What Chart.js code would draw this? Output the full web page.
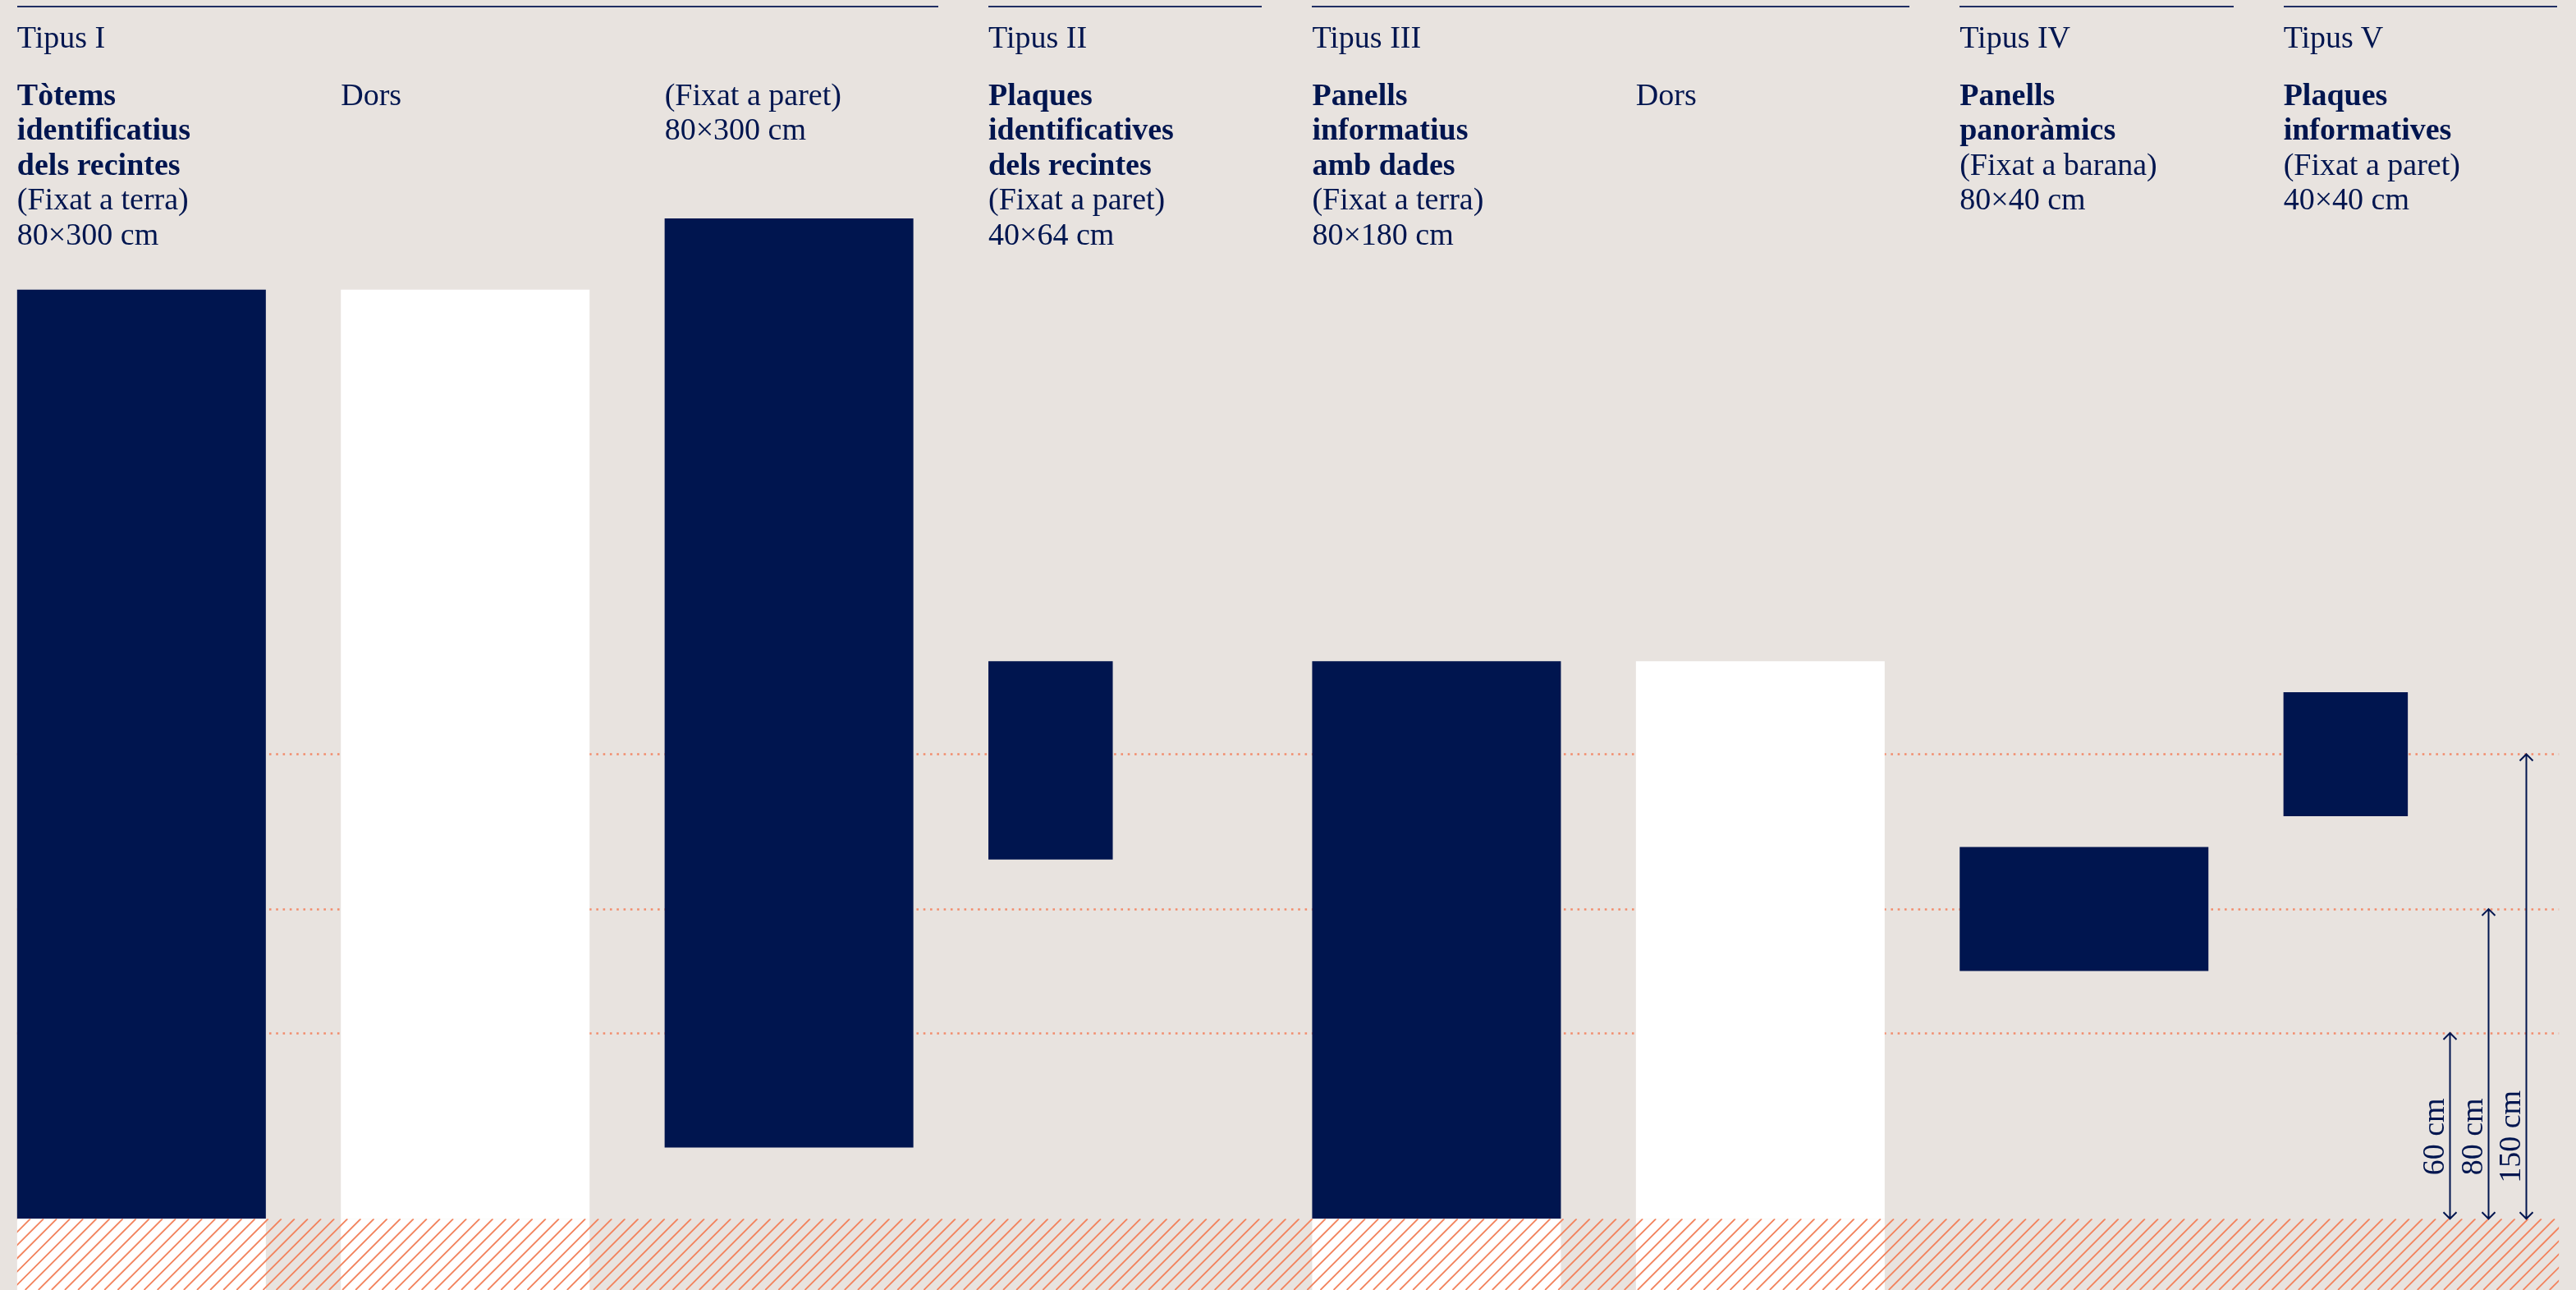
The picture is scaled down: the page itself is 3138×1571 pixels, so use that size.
<!DOCTYPE html>
<html>
<head>
<meta charset="utf-8">
<script src="https://cdn.jsdelivr.net/npm/chart.js@4.4.1/dist/chart.umd.min.js"></script>
<style>
  html, body { margin: 0; padding: 0; background: #E8E3DF; }
  #wrap { position: relative; width: 3138px; height: 1571px; overflow: hidden;
          font-family: "Liberation Serif", "Times New Roman", serif; color: #00154F; }
  #wrap canvas { position: absolute; left: 0; top: 0; }
  .rule { position: absolute; top: 6.5px; height: 2px; background: #1F2E63; }
  .tipus, .desc { position: absolute; font-size: 38px; line-height: 42.5px; white-space: nowrap; }
  .tipus { top: 24px; }
  .desc { top: 93.5px; }
  .desc b { font-weight: bold; }
</style>
</head>
<body>
<div id="wrap">
  <canvas id="chart-panels" width="3138" height="1571"></canvas>
</div>
<script>
{ // scoping

  // one column per panel face, heights in cm above ground
  const columns = ['Tòtems', 'Tòtems (dors)', 'Tòtems (fixat a paret)', 'Plaques identificatives',
                   'Panells informatius', 'Panells informatius (dors)', 'Panells panoràmics', 'Plaques informatives'];
  const panelWidth  = [80, 80, 80, 40, 80, 80, 80, 40];
  const panelBottom = [0, 0, 23, 116, 0, 0, 80, 130];
  const panelTop    = [300, 300, 323, 180, 180, 180, 120, 170];
  const panelFace   = ['front', 'back', 'front', 'front', 'front', 'back', 'front', 'front'];
  const groundMounted = [true, true, false, false, true, true, false, false];

  // header texts
  const typeNames    = ['Tipus I', 'Tipus II', 'Tipus III', 'Tipus IV', 'Tipus V'];
  const typeFirstCol = [0, 3, 4, 6, 7];
  const typeLastCol  = [2, 3, 5, 6, 7];
  const titleLines = [
    ['Tòtems', 'identificatius', 'dels recintes'], [], [],
    ['Plaques', 'identificatives', 'dels recintes'],
    ['Panells', 'informatius', 'amb dades'], [],
    ['Panells', 'panoràmics'],
    ['Plaques', 'informatives']
  ];
  const noteLines = [
    ['(Fixat a terra)', '80×300 cm'], ['Dors'], ['(Fixat a paret)', '80×300 cm'],
    ['(Fixat a paret)', '40×64 cm'], ['(Fixat a terra)', '80×180 cm'], ['Dors'],
    ['(Fixat a barana)', '80×40 cm'], ['(Fixat a paret)', '40×40 cm']
  ];

  // mounting heights (line level as drawn, label text)
  const heightLevels = [60, 100, 150];
  const heightLabels = ['60 cm', '80 cm', '150 cm'];

  // layout (cm on both axes)
  const COL_PITCH = 104.13;
  const X_MIN = -5.5, X_MAX = 823, Y_MIN = -23, Y_MAX = 393.5;
  const GROUND_END = 817.5;
  const ARROW_X = [782.3, 794.7, 806.9];
  const LABEL_AT = 26.5;
  const RULE_TAIL = 88;

  const NAVY = '#00154F', WHITE = '#FFFFFF', HATCH = '#F2845F', DOTS = '#F28C6C';

  const datasets = columns.map((name, i) => {
    const x = i * COL_PITCH + panelWidth[i] / 2;
    const data = [{ x: x, y: [panelBottom[i], panelTop[i]] }];
    const colors = [panelFace[i] === 'back' ? WHITE : NAVY];
    if (groundMounted[i]) {           // foundation below ground
      data.push({ x: x, y: [Y_MIN, 0] });
      colors.push(WHITE);
    }
    return { label: name, data: data, backgroundColor: colors, borderWidth: 0,
             inflateAmount: 0, stack: 'panels', barThickness: 1 };
  });

  const guides = {
    id: 'guides',
    beforeDatasetsDraw(chart) {
      const { ctx, scales: { x, y } } = chart;
      ctx.save();
      ctx.strokeStyle = DOTS;
      ctx.lineWidth = 2.6;
      ctx.setLineDash([2.6, 5.7]);
      heightLevels.forEach(v => {
        const py = Math.round(y.getPixelForValue(v)) + 0.5;
        ctx.beginPath();
        ctx.moveTo(x.getPixelForValue(0), py);
        ctx.lineTo(x.getPixelForValue(GROUND_END), py);
        ctx.stroke();
      });
      ctx.restore();
    },
    afterDatasetsDraw(chart) {
      const { ctx, scales: { x, y } } = chart;
      // hatched ground
      const x0 = x.getPixelForValue(0), x1 = x.getPixelForValue(GROUND_END);
      const yTop = y.getPixelForValue(0), yBot = y.getPixelForValue(Y_MIN);
      const h = yBot - yTop;
      ctx.save();
      ctx.beginPath();
      ctx.rect(x0, yTop, x1 - x0, h);
      ctx.clip();
      ctx.strokeStyle = HATCH;
      ctx.lineWidth = 1.8;
      ctx.beginPath();
      for (let px = x0 - h; px < x1 + h; px += 16.1) {
        ctx.moveTo(px, yBot);
        ctx.lineTo(px + h, yTop);
      }
      ctx.stroke();
      ctx.restore();

      // dimension arrows
      ctx.save();
      ctx.strokeStyle = NAVY;
      ctx.fillStyle = NAVY;
      ctx.lineWidth = 2;
      ctx.font = '38px "Liberation Serif", serif';
      ctx.textAlign = 'center';
      heightLevels.forEach((v, i) => {
        const px = Math.round(x.getPixelForValue(ARROW_X[i])) + 0.5;
        const top = y.getPixelForValue(v), bot = y.getPixelForValue(0);
        ctx.beginPath();
        ctx.moveTo(px, bot); ctx.lineTo(px, top);
        ctx.moveTo(px - 8, top + 8); ctx.lineTo(px, top); ctx.lineTo(px + 8, top + 8);
        ctx.moveTo(px - 8, bot - 8); ctx.lineTo(px, bot); ctx.lineTo(px + 8, bot - 8);
        ctx.stroke();
        ctx.save();
        ctx.translate(px - 8, y.getPixelForValue(LABEL_AT));
        ctx.rotate(-Math.PI / 2);
        ctx.fillText(heightLabels[i], 0, 0);
        ctx.restore();
      });
      ctx.restore();
    }
  };

  const ctx = document.getElementById('chart-panels').getContext('2d');
  const chart = new Chart(ctx, {
    type: 'bar',
    data: { datasets: datasets },
    options: {
      responsive: false,
      animation: false,
      layout: { padding: 0 },
      plugins: { legend: { display: false }, tooltip: { enabled: false } },
      scales: {
        x: { type: 'linear', min: X_MIN, max: X_MAX, offset: false, display: false },
        y: { type: 'linear', min: Y_MIN, max: Y_MAX, stacked: false, display: false }
      }
    },
    plugins: [guides]
  });

  // bar widths in cm through the x scale
  const xs = chart.scales.x;
  chart.data.datasets.forEach((ds, i) => {
    ds.barThickness = xs.getPixelForValue(panelWidth[i]) - xs.getPixelForValue(0);
  });
  chart.update();

  // header texts placed on the same x scale
  const wrap = document.getElementById('wrap');
  const colPx = i => xs.getPixelForValue(i * COL_PITCH);

  typeNames.forEach((name, t) => {
    const left = colPx(typeFirstCol[t]);
    const right = xs.getPixelForValue(typeLastCol[t] * COL_PITCH + RULE_TAIL);
    const rule = document.createElement('div');
    rule.className = 'rule';
    rule.style.left = left + 'px';
    rule.style.width = (right - left) + 'px';
    wrap.appendChild(rule);
    const label = document.createElement('div');
    label.className = 'tipus';
    label.style.left = left + 'px';
    label.textContent = name;
    wrap.appendChild(label);
  });

  columns.forEach((name, i) => {
    const desc = document.createElement('div');
    desc.className = 'desc';
    desc.style.left = colPx(i) + 'px';
    titleLines[i].forEach(line => {
      const b = document.createElement('b');
      b.textContent = line;
      desc.appendChild(b);
      desc.appendChild(document.createElement('br'));
    });
    noteLines[i].forEach(line => {
      desc.appendChild(document.createTextNode(line));
      desc.appendChild(document.createElement('br'));
    });
    wrap.appendChild(desc);
  });

} // scoping
</script>
</body>
</html>
